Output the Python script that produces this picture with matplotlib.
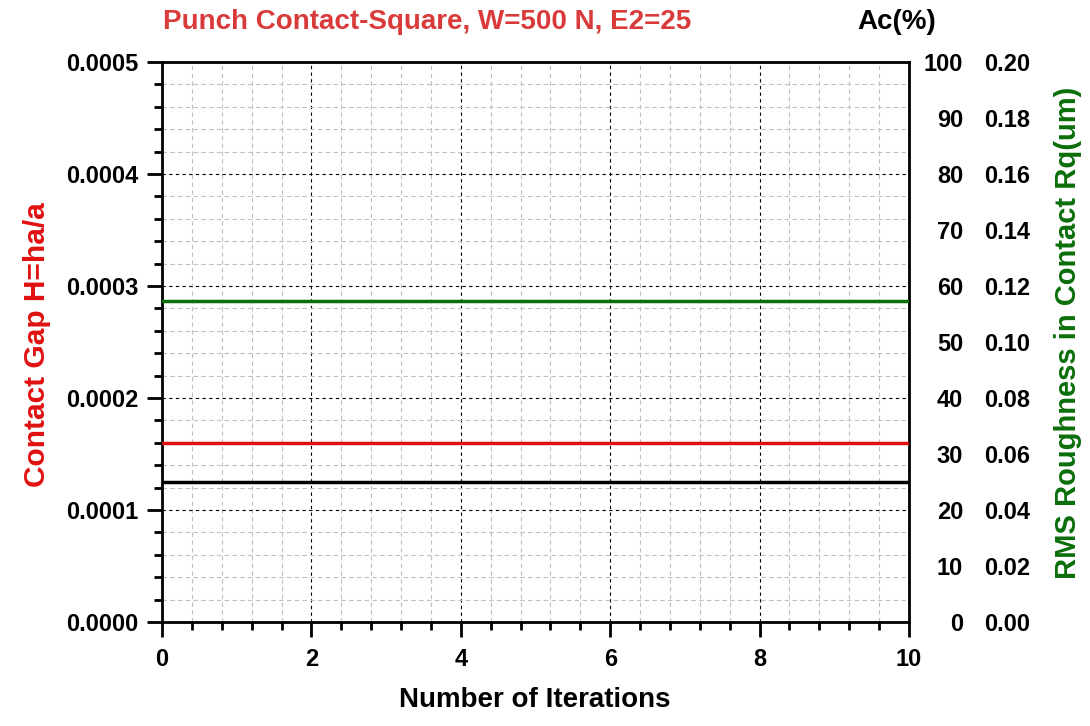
import matplotlib
matplotlib.use("Agg")
import matplotlib.pyplot as plt
from matplotlib.ticker import MultipleLocator, FormatStrFormatter

# data (constant over the iterations)
iterations = [0, 1, 2, 3, 4, 5, 6, 7, 8, 9, 10]
contact_gap = [0.00016] * 11      # left axis, red
contact_area = [25.0] * 11        # Ac(%), black
rms_rq = [0.1146] * 11            # Rq(um), green

ac_ticks = list(range(0, 101, 10))
rq_ticks = [i * 0.02 for i in range(11)]

plt.rcParams["font.family"] = ["Liberation Sans", "DejaVu Sans"]
plt.rcParams["font.weight"] = "bold"

fig = plt.figure(figsize=(10.9, 7.26), dpi=100)
ax = fig.add_axes([162 / 1090, 104 / 726, 747 / 1090, 560 / 726])

ax.set_xlim(0, 10)
ax.set_ylim(0, 0.0005)
ax.xaxis.set_major_locator(MultipleLocator(2))
ax.xaxis.set_minor_locator(MultipleLocator(0.4))
ax.yaxis.set_major_locator(MultipleLocator(0.0001))
ax.yaxis.set_minor_locator(MultipleLocator(0.00002))
ax.yaxis.set_major_formatter(FormatStrFormatter("%.4f"))

ax.grid(which="major", color="black", linestyle=(0, (3, 3)), linewidth=0.8)
ax.grid(which="minor", color="#c0c0c0", linestyle=(0, (4, 3)), linewidth=0.8)
ax.set_axisbelow(True)

for s in ax.spines.values():
    s.set_linewidth(2)

ax.tick_params(axis="both", which="major", length=11, width=2, labelsize=17,
               direction="out")
ax.tick_params(axis="both", which="minor", length=6, width=2, direction="out")
ax.tick_params(axis="y", which="both", right=True)
ax.tick_params(axis="y", which="major", pad=6)
ax.tick_params(axis="x", which="major", pad=8)

ax.plot(iterations, contact_gap, color="#e01010", linewidth=2.5, zorder=5)

# Ac(%) axis, labels only
ax2 = ax.twinx()
ax2.set_ylim(0, 100)
ax2.set_yticks(ac_ticks)
ax2.tick_params(axis="y", length=0, labelsize=17, pad=39)
for t in ax2.get_yticklabels():
    t.set_horizontalalignment("right")
for s in ax2.spines.values():
    s.set_visible(False)
ax2.plot(iterations, contact_area, color="black", linewidth=2.5, zorder=5)

# Rq axis, labels only
ax3 = ax.twinx()
ax3.set_ylim(0, 0.2)
ax3.set_yticks(rq_ticks)
ax3.yaxis.set_major_formatter(FormatStrFormatter("%.2f"))
ax3.tick_params(axis="y", length=0, labelsize=17, pad=87)
for t in ax3.get_yticklabels():
    t.set_horizontalalignment("right")
for s in ax3.spines.values():
    s.set_visible(False)
ax3.plot(iterations, rms_rq, color="#0a6e0a", linewidth=2.5, zorder=5)

fig.text(163 / 1090, 1 - 22 / 726, "Punch Contact-Square, W=500 N, E2=25",
         color="#d93a3a", fontsize=20, fontweight="bold", ha="left", va="center")
fig.text(897 / 1090, 1 - 22 / 726, "Ac(%)", color="black", fontsize=20,
         fontweight="bold", ha="center", va="center")
fig.text(535 / 1090, 1 - 700 / 726, "Number of Iterations", color="black",
         fontsize=20, fontweight="bold", ha="center", va="center")
fig.text(37 / 1090, 1 - 345 / 726, "Contact Gap H=ha/a", color="#e01010",
         fontsize=21.5, fontweight="bold", ha="center", va="center", rotation=90)
fig.text(1068 / 1090, 1 - 333 / 726, "RMS Roughness in Contact Rq(um)",
         color="#0a6e0a", fontsize=21, fontweight="bold", ha="center",
         va="center", rotation=90)

fig.savefig("out.png", dpi=100)
